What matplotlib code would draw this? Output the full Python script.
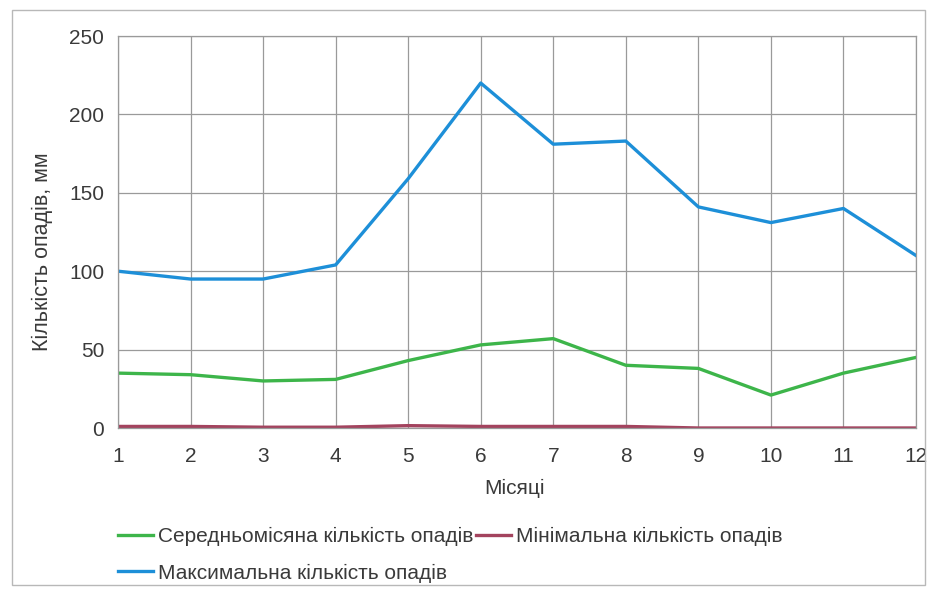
import matplotlib
matplotlib.use("Agg")
import matplotlib.pyplot as plt
from matplotlib.patches import Rectangle

plt.rcParams['font.family'] = ['Liberation Sans', 'DejaVu Sans']

months = list(range(1, 13))
# кількість опадів, мм
avg_prec = [35, 34, 30, 31, 43, 53, 57, 40, 38, 21, 35, 45]
min_prec = [1, 1, 0.5, 0.5, 1.5, 1, 1, 1, 0, 0, 0, 0]
max_prec = [100, 95, 95, 104, 159, 220, 181, 183, 141, 131, 140, 110]

yticks = [0, 50, 100, 150, 200, 250]

green = '#3db54a'
red = '#a3435e'
blue = '#1d8fd8'
txt = '#3a3a3a'
grid = '#9a9a9a'

fig = plt.figure(figsize=(9.4, 5.95), dpi=100)
fig.patches.append(Rectangle((12/940, 1-585/595), 913/940, 575/595, transform=fig.transFigure,
                             fill=False, edgecolor='#b8b8b8', lw=1))
ax = fig.add_axes([118/940, 1-428/595, 798/940, 392/595])

l1, = ax.plot(months, avg_prec, color=green, lw=2.4, label='Середньомісяна кількість опадів')
l2, = ax.plot(months, min_prec, color=red, lw=2.4, label='Мінімальна кількість опадів')
l3, = ax.plot(months, max_prec, color=blue, lw=2.4, label='Максимальна кількість опадів')

ax.set_xlim(1, 12)
ax.set_ylim(0, 250)
ax.set_xticks(months)
ax.set_yticks(yticks)
ax.grid(True, color=grid, lw=0.9)
ax.set_axisbelow(True)
for s in ax.spines.values():
    s.set_color(grid)
    s.set_linewidth(0.9)
ax.tick_params(length=0, labelsize=15, colors=txt)
ax.tick_params(axis='x', pad=14)
ax.tick_params(axis='y', pad=10)
ax.set_xlabel('Місяці', fontsize=15, color=txt)
ax.xaxis.set_label_coords(0.497, -0.13)
ax.set_ylabel('Кількість опадів, мм', fontsize=15.5, color=txt)
ax.yaxis.set_label_coords(-0.082, 0.449)

fig.legend([l1, l3, l2], [l1.get_label(), l3.get_label(), l2.get_label()],
           ncol=2, loc='upper left', bbox_to_anchor=(99/940, 1-508/595),
           frameon=False, fontsize=15, handlelength=1.7, handletextpad=0.25,
           columnspacing=0.1, labelspacing=0.85, labelcolor=txt)

fig.savefig('out.png', dpi=100)
